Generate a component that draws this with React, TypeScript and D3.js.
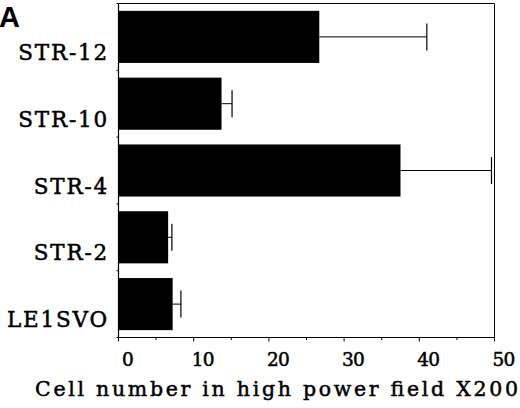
import React from "react";
import * as d3 from "d3";

const categories = ["STR-12", "STR-10", "STR-4", "STR-2", "LE1SVO"];
const means = [26.7, 13.7, 37.5, 6.6, 7.2];
const errors = [14.3, 1.4, 12.1, 0.5, 1.1];
const majorTicks = [0, 10, 20, 30, 40, 50];
const minorTicks = [5, 15, 25, 35, 45];
const xTitle = "Cell number in high power field X200";
const panelLabel = "A";

const W = 520;
const H = 408;
const left = 118.5;
const right = 494.5;
const top = 3.5;
const bottom = 337.5;

export default function App() {
  const x = d3.scaleLinear().domain([0, 50]).range([left, right]);
  const y = d3.scaleBand<string>().domain(categories).range([top, bottom]).paddingInner(0.22).paddingOuter(0.11);
  const step = y.step();
  const boundaries = d3.range(categories.length + 1).map((i) => top + i * step);
  const serif = "'DejaVu Serif', serif";
  const thick = { stroke: "#000", strokeWidth: 0.5 };
  return (
    <svg width={W} height={H} style={{ position: "absolute", left: 0, top: 0, background: "#fff" }}>
      <rect x={0} y={0} width={W} height={H} fill="#fff" />
      <text x={-1} y={27} fontFamily="'Liberation Sans', Arial, sans-serif" fontWeight="bold" fontSize={29}>
        {panelLabel}
      </text>
      <path d={`M${left},${top}H${right}V${bottom}`} fill="none" stroke="#000" strokeWidth={1} />
      <line x1={left} x2={left} y1={top} y2={bottom} stroke="#000" strokeWidth={1.2} />
      <line x1={left} x2={right} y1={bottom} y2={bottom} stroke="#000" strokeWidth={1.2} />
      {boundaries.map((b, i) => (
        <line key={"yb" + i} x1={left - 2} x2={left} y1={b} y2={b} stroke="#000" strokeWidth={1} />
      ))}
      {majorTicks.map((t) => (
        <g key={"mt" + t}>
          <line x1={x(t)} x2={x(t)} y1={bottom} y2={bottom + 4} stroke="#000" strokeWidth={1} />
          <text x={x(t) + 9} y={366} textAnchor="middle" fontFamily={serif} fontSize={18.5} letterSpacing={-0.8} {...thick}>
            {t}
          </text>
        </g>
      ))}
      {minorTicks.map((t) => (
        <line key={"mn" + t} x1={x(t)} x2={x(t)} y1={bottom} y2={bottom + 2.5} stroke="#000" strokeWidth={1} />
      ))}
      {categories.map((c, i) => {
        const yc = (y(c) as number) + y.bandwidth() / 2;
        return (
          <g key={c}>
            <rect x={x(0)} y={y(c)} width={x(means[i]) - x(0)} height={y.bandwidth()} fill="#000" />
            <line x1={x(means[i])} x2={x(means[i] + errors[i])} y1={yc} y2={yc} stroke="#000" strokeWidth={1} />
            <line x1={x(means[i] + errors[i])} x2={x(means[i] + errors[i])} y1={yc - 13.5} y2={yc + 13.5} stroke="#000" strokeWidth={1.2} />
            <text x={109} y={yc + 23} textAnchor="end" fontFamily={serif} fontSize={21.5} letterSpacing={1.8} {...thick}>
              {c}
            </text>
          </g>
        );
      })}
      <text x={35} y={396} fontFamily={serif} fontSize={20.5} textLength={483} lengthAdjust="spacing" {...thick}>
        {xTitle}
      </text>
    </svg>
  );
}
